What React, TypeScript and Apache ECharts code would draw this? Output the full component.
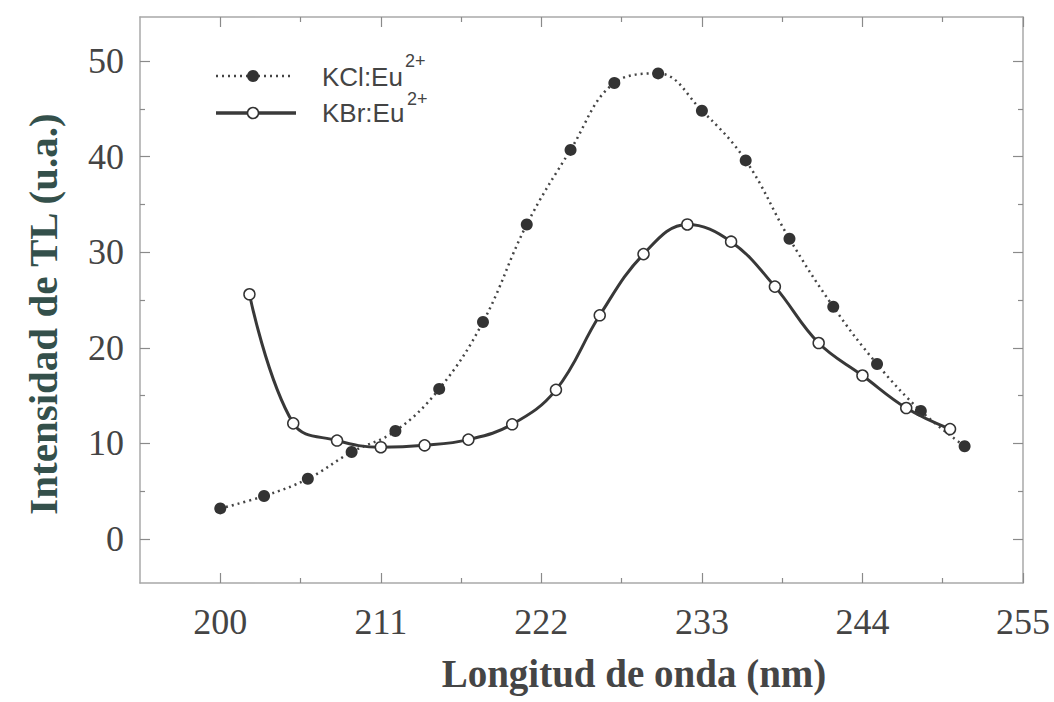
import React, { useEffect, useRef } from "react";
import * as echarts from "echarts";

const kclX = [200, 203, 206, 209, 212, 215, 218, 221, 224, 227, 230, 233, 236, 239, 242, 245, 248, 251];
const kclY = [3.2, 4.5, 6.3, 9.1, 11.3, 15.7, 22.7, 32.9, 40.7, 47.7, 48.7, 44.8, 39.6, 31.4, 24.3, 18.3, 13.4, 9.7];
const kbrX = [202, 205, 208, 211, 214, 217, 220, 223, 226, 229, 232, 235, 238, 241, 244, 247, 250];
const kbrY = [25.6, 12.1, 10.3, 9.6, 9.8, 10.4, 12.0, 15.6, 23.4, 29.8, 32.9, 31.1, 26.4, 20.5, 17.1, 13.7, 11.5];

const xLabels = [200, 211, 222, 233, 244, 255];
const xMinor = [205.5, 216.5, 227.5, 238.5, 249.5];
const yLabels = [0, 10, 20, 30, 40, 50];
const yMinor = [5, 15, 25, 35, 45];

const X_MIN = 194.5;
const X_MAX = 255;
const Y_MIN = -4.6;
const Y_MAX = 54.6;

const AXIS_COLOR = "#a8a8a8";
const TICK_COLOR = "#8a8a8a";

function xAxisDef(position: string, ticks: number[], len: number, showLine: boolean, showLabel: boolean) {
  return {
    type: "value",
    gridIndex: 0,
    position,
    min: X_MIN,
    max: X_MAX,
    axisLine: { show: showLine, onZero: false, lineStyle: { color: AXIS_COLOR, width: 1.5 } },
    axisTick: { show: true, inside: true, length: len, customValues: ticks, lineStyle: { color: TICK_COLOR, width: 1.2 } },
    axisLabel: {
      show: showLabel,
      customValues: xLabels,
      margin: 21,
      fontFamily: "Liberation Serif",
      fontSize: 36,
      color: "#444",
      showMinLabel: true,
      showMaxLabel: true,
    },
    splitLine: { show: false },
  };
}

function yAxisDef(position: string, ticks: number[], len: number, showLine: boolean, showLabel: boolean) {
  return {
    type: "value",
    gridIndex: 0,
    position,
    min: Y_MIN,
    max: Y_MAX,
    axisLine: { show: showLine, onZero: false, lineStyle: { color: AXIS_COLOR, width: 1.5 } },
    axisTick: { show: true, inside: true, length: len, customValues: ticks, lineStyle: { color: TICK_COLOR, width: 1.2 } },
    axisLabel: {
      show: showLabel,
      customValues: yLabels,
      margin: 16,
      fontFamily: "Liberation Serif",
      fontSize: 36,
      color: "#444",
      showMinLabel: true,
      showMaxLabel: true,
    },
    splitLine: { show: false },
  };
}

export default function App() {
  const ref = useRef<HTMLDivElement>(null);

  useEffect(() => {
    if (!ref.current) return;
    const chart = echarts.init(ref.current, null, { renderer: "svg" });
    const option = {
      animation: false,
      backgroundColor: "#ffffff",
      grid: { left: 140, top: 17, right: 31, bottom: 119, containLabel: false },
      xAxis: [
        xAxisDef("bottom", xLabels, 10, true, true),
        xAxisDef("bottom", xMinor, 5, false, false),
        xAxisDef("top", xLabels, 10, true, false),
        xAxisDef("top", xMinor, 5, false, false),
      ],
      yAxis: [
        yAxisDef("left", yLabels, 10, true, true),
        yAxisDef("left", yMinor, 5, false, false),
        yAxisDef("right", yLabels, 10, true, false),
        yAxisDef("right", yMinor, 5, false, false),
      ],
      series: [
        {
          name: "KCl:Eu2+",
          type: "line",
          xAxisIndex: 0,
          yAxisIndex: 0,
          smooth: 0.4,
          data: kclX.map((x, i) => [x, kclY[i]]),
          symbol: "circle",
          symbolSize: 12,
          itemStyle: { color: "#333" },
          lineStyle: { color: "#444", width: 2.5, type: [2, 4] },
          z: 3,
        },
        {
          name: "KBr:Eu2+",
          type: "line",
          xAxisIndex: 0,
          yAxisIndex: 0,
          smooth: 0.4,
          data: kbrX.map((x, i) => [x, kbrY[i]]),
          symbol: "circle",
          symbolSize: 11,
          itemStyle: { color: "#ffffff", borderColor: "#333", borderWidth: 1.5 },
          lineStyle: { color: "#383838", width: 3 },
          z: 4,
        },
      ],
      graphic: [
        { type: "line", shape: { x1: 216, y1: 76, x2: 290, y2: 76 }, style: { stroke: "#444", lineWidth: 2.5, lineDash: [2, 4] } },
        { type: "circle", shape: { cx: 253, cy: 76, r: 6 }, style: { fill: "#333" } },
        { type: "line", shape: { x1: 216, y1: 113, x2: 296, y2: 113 }, style: { stroke: "#3a3a3a", lineWidth: 3.5 } },
        { type: "circle", shape: { cx: 253, cy: 113, r: 5.5 }, style: { fill: "#fff", stroke: "#333", lineWidth: 1.5 } },
        { type: "text", x: 322, y: 77, style: { text: "KCl:Eu", fontFamily: "Liberation Sans", fontSize: 26, fill: "#444", align: "left", verticalAlign: "middle" } },
        { type: "text", x: 405, y: 61, style: { text: "2+", fontFamily: "Liberation Sans", fontSize: 18, fill: "#444", align: "left", verticalAlign: "middle" } },
        { type: "text", x: 322, y: 113, style: { text: "KBr:Eu", fontFamily: "Liberation Sans", fontSize: 26, fill: "#444", align: "left", verticalAlign: "middle" } },
        { type: "text", x: 407, y: 99, style: { text: "2+", fontFamily: "Liberation Sans", fontSize: 18, fill: "#444", align: "left", verticalAlign: "middle" } },
        {
          type: "text", x: 634, y: 673,
          style: { text: "Longitud de onda (nm)", fontFamily: "Liberation Serif", fontWeight: "bold", fontSize: 39, fill: "#454545", align: "center", verticalAlign: "middle" },
        },
        {
          type: "text", x: 43, y: 314, rotation: Math.PI / 2,
          style: { text: "Intensidad de TL (u.a.)", fontFamily: "Liberation Serif", fontWeight: "bold", fontSize: 41, fill: "#34504b", align: "center", verticalAlign: "middle" },
        },
      ],
    };
    chart.setOption(option as any);
    return () => chart.dispose();
  }, []);

  return <div ref={ref} style={{ position: "fixed", left: 0, top: 0, width: 1054, height: 702 }} />;
}
